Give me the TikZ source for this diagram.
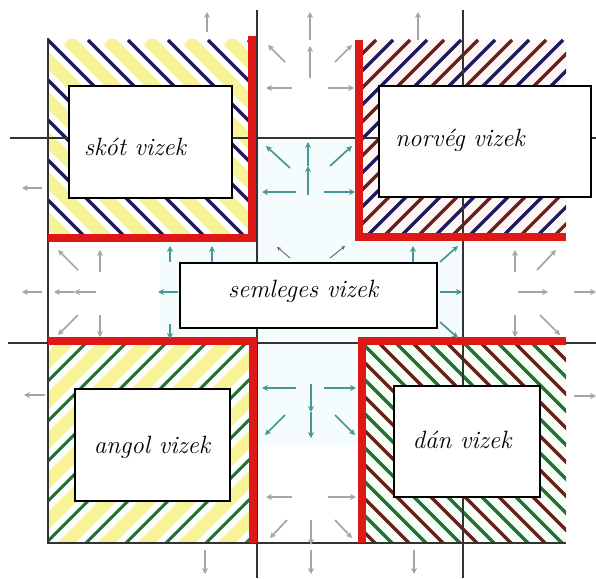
\documentclass[tikz,border=0pt]{standalone}
\usetikzlibrary{arrows.meta}
\definecolor{redline}{RGB}{222,24,22}
\definecolor{navyink}{RGB}{28,28,92}
\definecolor{maroonink}{RGB}{105,32,26}
\definecolor{greenink}{RGB}{34,112,52}
\definecolor{paleyellow}{RGB}{246,244,150}
\definecolor{arrowteal}{RGB}{72,150,150}
\definecolor{arrowgray}{RGB}{165,165,165}
\tikzset{
  gridline/.style={black!80, line width=1.2pt},
  redwall/.style={redline, line width=8pt},
  zonebox/.style={draw=black, fill=white, line width=1.5pt, inner sep=0pt},
  zonelabel/.style={font=\fontsize{25}{29}\selectfont\itshape},
  grayarrow/.style={arrowgray, line width=1.7pt, -{Stealth[length=6pt,width=6pt]}},
  tealarrow/.style={arrowteal, line width=1.7pt, -{Stealth[length=6pt,width=6pt]}},
  darkarrow/.style={black!60, line width=0.9pt, -{Stealth[length=4pt,width=4pt]}},
}
\begin{document}
\begin{tikzpicture}[x=1pt, y=-1pt]
    \useasboundingbox (0,0) rectangle (596,578);
    \fill[white] (0,0) rectangle (596,578);
    % neutral corridors
    \fill[cyan!4] (257,138) rectangle (358,242);
    \fill[cyan!4] (160,242) rectangle (463,341);
    \fill[cyan!4] (257,343) rectangle (362,445);
    % scottish waters
    \begin{scope}
        \clip (48,40) rectangle (252,238);
        \foreach \i in {-240,-200,...,240}
            \draw[paleyellow, line width=13pt] (48+\i+20,40) -- ++(230,230);
        \foreach \i in {-240,-200,...,240}
            \draw[navyink, line width=3.5pt] (48+\i,40) -- ++(230,230);
    \end{scope}
    % norwegian waters
    \begin{scope}
        \clip (359,40) rectangle (566,237);
        \fill[red!4] (359,40) rectangle (566,237);
        \foreach \i in {0,34,...,460}
            \draw[navyink, line width=3.2pt] (359+\i,40) -- ++(-230,230);
        \foreach \i in {17,51,...,460}
            \draw[maroonink, line width=3.2pt] (359+\i,40) -- ++(-230,230);
    \end{scope}
    % english waters
    \begin{scope}
        \clip (48,341) rectangle (253,543);
        \foreach \i in {0,40,...,480}
            \draw[paleyellow, line width=13pt] (48+\i+20,341) -- ++(-230,230);
        \foreach \i in {0,40,...,480}
            \draw[greenink, line width=3pt] (48+\i,341) -- ++(-230,230);
    \end{scope}
    % danish waters
    \begin{scope}
        \clip (362,341) rectangle (566,543);
        \fill[green!4] (362,341) rectangle (566,543);
        \foreach \i in {-240,-206,...,220}
            \draw[greenink, line width=3.2pt] (362+\i,341) -- ++(230,230);
        \foreach \i in {-223,-189,...,220}
            \draw[maroonink, line width=3.2pt] (362+\i,341) -- ++(230,230);
    \end{scope}
    % grid
    \draw[gridline] (10,138) -- (596,138);
    \draw[gridline] (8,343) -- (596,343);
    \draw[gridline] (257,10) -- (257,578);
    \draw[gridline] (463,10) -- (463,578);
    \draw[gridline] (48,38) -- (48,543) -- (566,543);
    % borders
    \draw[redwall] (48,238) -- (252,238) -- (252,36);
    \draw[redwall] (359,40) -- (359,237) -- (566,237);
    \draw[redwall] (48,341) -- (253,341) -- (253,543);
    \draw[redwall] (362,543) -- (362,341) -- (566,341);
    % zones
    \node[zonebox, minimum width=163pt, minimum height=112pt] (skot) at (150.5,142) {};
    \node[zonebox, minimum width=212pt, minimum height=111pt] (norveg) at (485,141.5) {};
    \node[zonebox, minimum width=155pt, minimum height=112pt] (angol) at (152.5,445) {};
    \node[zonebox, minimum width=146pt, minimum height=111pt] (dan) at (467,441.5) {};
    \node[zonebox, line width=2.6pt, minimum width=257pt, minimum height=65pt] (semleges) at (308.5,295.5) {};
    \node[zonelabel] (skotlabel) at (135,147) {skót vizek};
    \node[zonelabel] (norveglabel) at (460,140) {norvég vizek};
    \node[zonelabel] (semlegeslabel) at (303,291) {semleges vizek};
    \node[zonelabel] (angollabel) at (152,447) {angol vizek};
    \node[zonelabel] (danlabel) at (462,440) {dán vizek};
    % drift arrows, grey
    \draw[grayarrow] (285,62) -- (268,45);
    \draw[grayarrow] (310,78) -- (310,46);
    \draw[grayarrow] (310,40) -- (310,12);
    \draw[grayarrow] (335,62) -- (352,45);
    \draw[grayarrow] (292,88) -- (266,88);
    \draw[grayarrow] (328,88) -- (354,88);
    \draw[grayarrow] (292,497) -- (266,497);
    \draw[grayarrow] (328,497) -- (356,497);
    \draw[grayarrow] (287,520) -- (270,538);
    \draw[grayarrow] (335,520) -- (352,538);
    \draw[grayarrow] (311,520) -- (311,545);
    \draw[grayarrow] (311,550) -- (311,574);
    \draw[grayarrow] (78,270) -- (58,250);
    \draw[grayarrow] (100,272) -- (100,250);
    \draw[grayarrow] (96,292) -- (74,292);
    \draw[grayarrow] (74,292) -- (54,292);
    \draw[grayarrow] (42,292) -- (22,292);
    \draw[grayarrow] (78,315) -- (58,335);
    \draw[grayarrow] (100,315) -- (100,337);
    \draw[grayarrow] (515,272) -- (515,250);
    \draw[grayarrow] (537,270) -- (556,250);
    \draw[grayarrow] (518,292) -- (548,292);
    \draw[grayarrow] (574,292) -- (596,292);
    \draw[grayarrow] (515,315) -- (515,337);
    \draw[grayarrow] (540,315) -- (560,335);
    \draw[grayarrow] (207,32) -- (207,12);
    \draw[grayarrow] (418,40) -- (418,12);
    \draw[grayarrow] (42,188) -- (22,188);
    \draw[grayarrow] (45,395) -- (24,395);
    \draw[grayarrow] (574,396) -- (596,396);
    \draw[grayarrow] (205,550) -- (205,574);
    \draw[grayarrow] (414,550) -- (414,574);
    % drift arrows, teal
    \draw[tealarrow] (290,168) -- (266,146);
    \draw[tealarrow] (308,195) -- (308,166);
    \draw[tealarrow] (308,166) -- (308,142);
    \draw[tealarrow] (330,166) -- (352,146);
    \draw[tealarrow] (296,192) -- (262,192);
    \draw[tealarrow] (324,192) -- (355,192);
    \draw[tealarrow] (296,388) -- (262,388);
    \draw[tealarrow] (324,388) -- (356,388);
    \draw[tealarrow] (311,384) -- (311,412);
    \draw[tealarrow] (311,412) -- (311,438);
    \draw[tealarrow] (285,415) -- (265,435);
    \draw[tealarrow] (335,415) -- (355,435);
    \draw[tealarrow] (170,262) -- (170,246);
    \draw[tealarrow] (212,262) -- (212,246);
    \draw[tealarrow] (178,292) -- (158,292);
    \draw[tealarrow] (170,324) -- (170,339);
    \draw[tealarrow] (413,262) -- (413,246);
    \draw[tealarrow] (440,262) -- (458,246);
    \draw[tealarrow] (440,292) -- (462,292);
    \draw[tealarrow] (440,322) -- (458,338);
    % small marks over the neutral box
    \draw[darkarrow] (290,258) -- (277,247);
    \draw[darkarrow] (330,258) -- (345,246);
\end{tikzpicture}
\end{document}
